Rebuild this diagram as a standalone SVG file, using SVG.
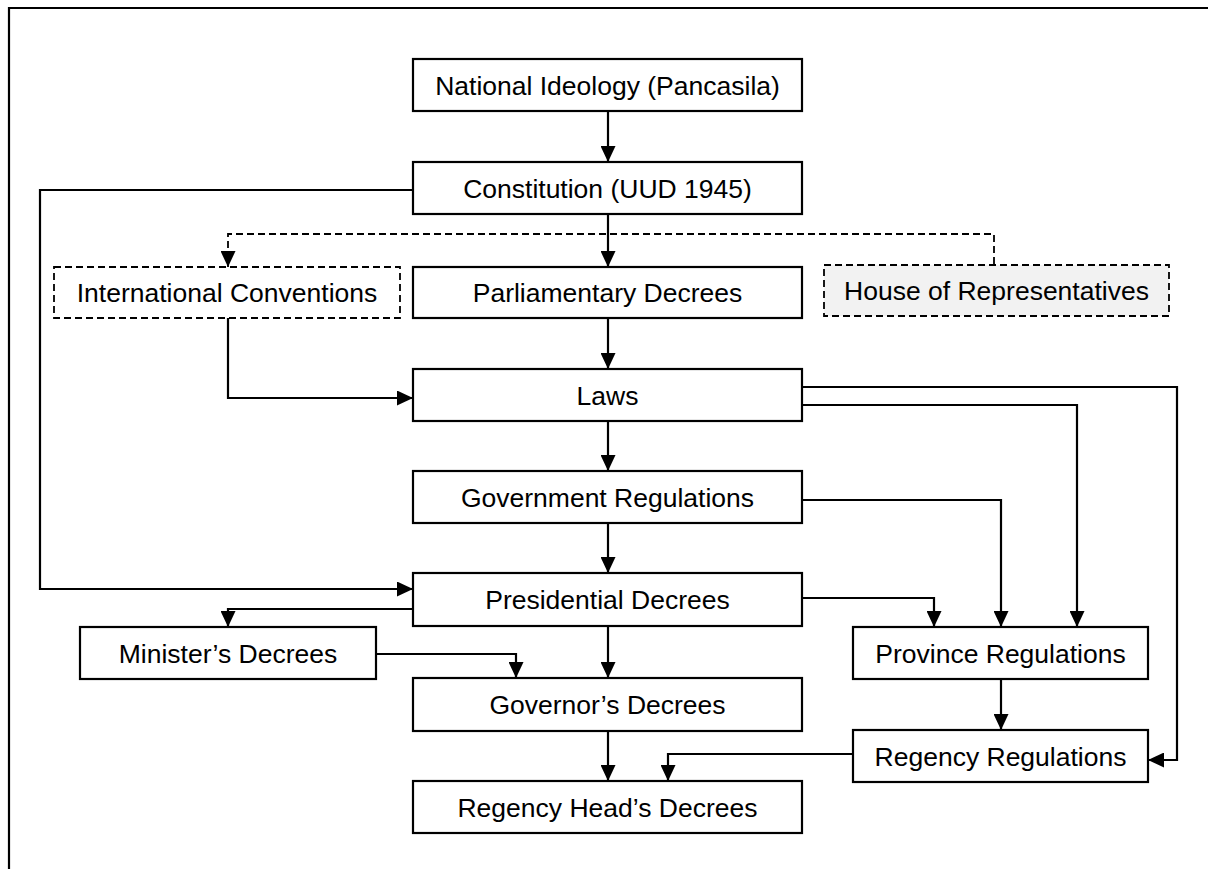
<svg xmlns="http://www.w3.org/2000/svg" width="1208" height="869" viewBox="0 0 1208 869">
<defs>
<marker id="arr" markerUnits="userSpaceOnUse" markerWidth="16" markerHeight="15" refX="16" refY="7.5" orient="auto" viewBox="0 0 16 15">
<path d="M0,0 L16,7.5 L0,15 Z" fill="#000"/>
</marker>
</defs>
<style>
.box{fill:#fff;stroke:#000;stroke-width:2.2}
.dbox{fill:#fff;stroke:#000;stroke-width:1.8;stroke-dasharray:7 4}
.grey{fill:#f2f2f2}
.t{font-family:"Liberation Sans",Arial,sans-serif;font-size:26.5px;fill:#000;text-anchor:middle}
.c{fill:none;stroke:#000;stroke-width:2.2}
.cd{fill:none;stroke:#000;stroke-width:1.8;stroke-dasharray:7 4}
</style>
<rect width="1208" height="869" fill="#fff"/>
<path d="M9,869 V8 H1208" fill="none" stroke="#000" stroke-width="2.2"/>
<g id="connectors">
<path class="c" d="M608,111 V162" marker-end="url(#arr)"/>
<path class="c" d="M608,214 V267" marker-end="url(#arr)"/>
<path class="cd" d="M994,264 V234 H228 V267" marker-end="url(#arr)"/>
<path class="c" d="M413,190 H40 V589 H413" marker-end="url(#arr)"/>
<path class="c" d="M608,318 V369" marker-end="url(#arr)"/>
<path class="c" d="M228,318 V398 H413" marker-end="url(#arr)"/>
<path class="c" d="M608,421 V471" marker-end="url(#arr)"/>
<path class="c" d="M608,523 V573" marker-end="url(#arr)"/>
<path class="c" d="M608,626 V678" marker-end="url(#arr)"/>
<path class="c" d="M608,731 V781" marker-end="url(#arr)"/>
<path class="c" d="M413,609 H228 V627" marker-end="url(#arr)"/>
<path class="c" d="M376,654 H516 V678" marker-end="url(#arr)"/>
<path class="c" d="M802,387 H1177 V760 H1148" marker-end="url(#arr)"/>
<path class="c" d="M802,405 H1077 V627" marker-end="url(#arr)"/>
<path class="c" d="M802,500 H1001 V627" marker-end="url(#arr)"/>
<path class="c" d="M802,598 H934 V627" marker-end="url(#arr)"/>
<path class="c" d="M1001,679 V730" marker-end="url(#arr)"/>
<path class="c" d="M853,754 H668 V781" marker-end="url(#arr)"/>
</g>
<g id="national"><rect class="box" x="413" y="59" width="389" height="52"/><text class="t" x="607.5" y="94.5">National Ideology (Pancasila)</text></g>
<g id="constitution"><rect class="box" x="413" y="162" width="389" height="52"/><text class="t" x="607.5" y="197.5">Constitution (UUD 1945)</text></g>
<g id="international"><rect class="dbox" x="54" y="267" width="346" height="51"/><text class="t" x="227" y="301.5">International Conventions</text></g>
<g id="parliamentary"><rect class="box" x="413" y="267" width="389" height="51"/><text class="t" x="607.5" y="301.5">Parliamentary Decrees</text></g>
<g id="house"><rect class="dbox grey" x="824" y="265" width="345" height="51"/><text class="t" x="996.5" y="299.5">House of Representatives</text></g>
<g id="laws"><rect class="box" x="413" y="369" width="389" height="52"/><text class="t" x="607.5" y="404.5">Laws</text></g>
<g id="government"><rect class="box" x="413" y="471" width="389" height="52"/><text class="t" x="607.5" y="506.5">Government Regulations</text></g>
<g id="presidential"><rect class="box" x="413" y="573" width="389" height="53"/><text class="t" x="607.5" y="608.5">Presidential Decrees</text></g>
<g id="minister"><rect class="box" x="80" y="627" width="296" height="52"/><text class="t" x="228" y="662.5">Minister’s Decrees</text></g>
<g id="province"><rect class="box" x="853" y="627" width="295" height="52"/><text class="t" x="1000.5" y="662.5">Province Regulations</text></g>
<g id="governor"><rect class="box" x="413" y="678" width="389" height="53"/><text class="t" x="607.5" y="713.5">Governor’s Decrees</text></g>
<g id="regencyregs"><rect class="box" x="853" y="730" width="295" height="52"/><text class="t" x="1000.5" y="765.5">Regency Regulations</text></g>
<g id="regencyhead"><rect class="box" x="413" y="781" width="389" height="52"/><text class="t" x="607.5" y="816.5">Regency Head’s Decrees</text></g>
</svg>
